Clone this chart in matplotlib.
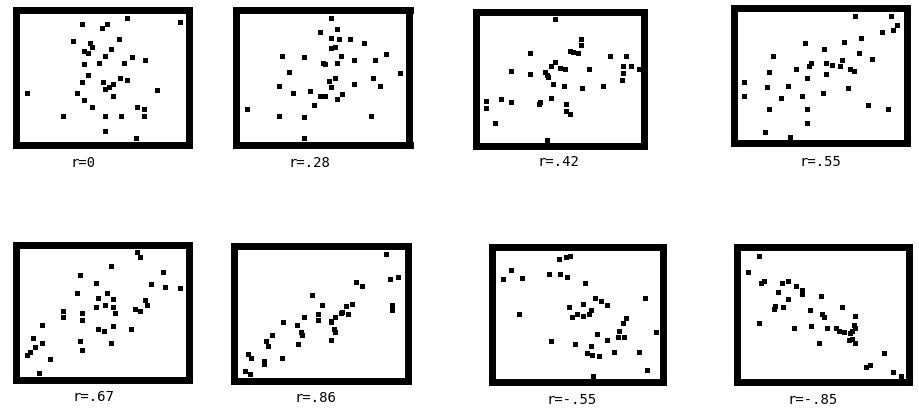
"""
Eight small scatter plots showing what different correlation
coefficients look like. Point values are read off the picture and
kept in each panel's own pixel-like units.
"""

import matplotlib
matplotlib.use("Agg")
import matplotlib.pyplot as plt

# Data (x, y) per panel, y grows downwards as read
# ----------------------------------------------------------------------
LABELS = ["r=0", "r=.28", "r=.42", "r=.55",
          "r=.67", "r=.86", "r=-.55", "r=-.85"]

x_r0 = [380, 540, 247, 322, 305, 218, 356, 270, 275, 252, 265, 334, 316, 397,
        436, 253, 298, 373, 265, 360, 380, 247, 310, 340, 328, 316, 82, 471,
        230, 340, 253, 276, 412, 432, 190, 316, 363, 431, 316, 408]
y_r0 = [53, 67, 72, 72, 85, 122, 117, 130, 140, 153, 158, 148, 167, 171,
        180, 193, 189, 189, 225, 234, 239, 247, 247, 252, 261, 267, 279, 270,
        279, 288, 301, 320, 320, 328, 347, 347, 347, 347, 392, 414]

x_r28 = [318, 336, 284, 318, 342, 376, 416, 330, 318, 170, 238, 348, 484, 388,
         450, 293, 300, 336, 192, 524, 330, 312, 444, 163, 318, 388, 466, 204,
         256, 284, 300, 352, 336, 266, 66, 163, 238, 438, 238]
y_r28 = [53, 86, 95, 113, 117, 117, 130, 140, 144, 167, 171, 167, 162, 180,
         180, 189, 193, 189, 216, 220, 234, 243, 234, 257, 261, 252, 257, 279,
         274, 288, 288, 283, 297, 316, 328, 347, 351, 347, 414]

x_r42 = [285, 364, 364, 210, 330, 340, 355, 450, 497, 285, 272, 300, 315, 153,
         210, 255, 260, 263, 388, 490, 514, 538, 490, 485, 280, 313, 365, 428,
         78, 124, 153, 78, 240, 236, 273, 318, 318, 330, 106, 262]
y_r42 = [58, 117, 135, 158, 153, 157, 158, 167, 167, 185, 198, 203, 208, 212,
         221, 216, 225, 232, 207, 198, 198, 207, 220, 239, 252, 257, 265, 257,
         302, 298, 306, 324, 306, 312, 293, 311, 333, 342, 369, 419]

x_r55 = [390, 498, 516, 470, 505, 408, 240, 356, 298, 402, 144, 442, 350, 258,
         253, 304, 322, 345, 212, 133, 304, 376, 386, 247, 58, 127, 189, 368,
         293, 58, 167, 230, 132, 247, 430, 488, 247, 121, 196]
y_r55 = [49, 49, 76, 95, 90, 113, 130, 126, 148, 158, 167, 176, 180, 189,
         198, 189, 194, 198, 207, 216, 221, 207, 212, 234, 247, 261, 257, 265,
         279, 288, 293, 288, 328, 328, 316, 328, 369, 396, 410]

x_r67 = [412, 420, 334, 488, 241, 288, 454, 494, 540, 230, 322, 293, 340, 436,
         442, 288, 316, 340, 406, 420, 190, 190, 247, 346, 247, 127, 340, 293,
         312, 392, 98, 127, 104, 241, 334, 247, 90, 82, 150, 116]
y_r67 = [52, 67, 93, 111, 120, 143, 147, 156, 160, 174, 174, 188, 192, 196,
         210, 215, 210, 215, 223, 228, 228, 246, 233, 233, 256, 269, 273, 282,
         288, 283, 310, 323, 337, 319, 323, 346, 350, 360, 373, 413]

x_r86 = [484, 496, 520, 392, 410, 262, 290, 380, 364, 502, 502, 352, 348, 370,
         238, 278, 278, 330, 318, 318, 175, 215, 228, 232, 326, 330, 140, 122,
         128, 220, 318, 70, 78, 116, 116, 170, 60, 76]
y_r86 = [57, 133, 125, 142, 152, 179, 210, 206, 212, 210, 225, 230, 235, 238,
         246, 238, 255, 246, 257, 262, 260, 269, 292, 301, 283, 290, 300, 319,
         332, 327, 314, 357, 370, 378, 388, 369, 408, 418]

x_rm55 = [236, 258, 270, 92, 70, 127, 207, 241, 260, 316, 346, 362, 380, 494,
          266, 310, 116, 276, 290, 310, 326, 334, 438, 430, 416, 352, 414, 432,
          528, 212, 284, 334, 380, 320, 336, 356, 402, 478, 500, 340]
y_rm55 = [71, 66, 62, 106, 133, 129, 116, 116, 125, 143, 188, 197, 211, 188,
          215, 206, 238, 247, 238, 243, 236, 225, 250, 265, 287, 297, 307, 305,
          292, 319, 328, 332, 315, 355, 360, 364, 351, 351, 405, 423]

x_rm85 = [103, 68, 108, 116, 172, 190, 213, 230, 230, 160, 190, 287, 150, 148,
          173, 254, 350, 290, 298, 390, 103, 207, 259, 305, 334, 343, 358, 386,
          390, 380, 376, 372, 382, 390, 282, 477, 422, 436, 505, 527]
y_rm85 = [62, 111, 143, 138, 143, 138, 152, 165, 178, 170, 193, 184, 212, 221,
          215, 225, 215, 238, 246, 243, 265, 278, 273, 278, 278, 287, 292, 270,
          278, 287, 294, 315, 312, 324, 323, 355, 396, 391, 410, 423]

XS = [x_r0, x_r28, x_r42, x_r55, x_r67, x_r86, x_rm55, x_rm85]
YS = [y_r0, y_r28, y_r42, y_r55, y_r67, y_r86, y_rm55, y_rm85]
# ----------------------------------------------------------------------

# Layout (pixels)
# ----------------------------------------------------------------------
W, H = 920, 415
# crop origin of each panel and its frame box (x0, x1, y0, y1) in 3x units
ORIGINS = [(0, 0), (225, 0), (460, 0), (725, 0),
           (0, 235), (225, 235), (480, 235), (725, 235)]
BOXES = [(49, 568, 31, 435), (33.5, 553.5, 31, 436), (47.5, 552, 36, 438.5),
         (26.5, 545, 25, 430), (49, 567, 31, 434), (27.5, 549, 32, 437.5),
         (36, 550, 37, 441), (36, 552.5, 37, 441)]
LABEL_POS = [(83, 163), (309, 163), (558, 162), (820, 162),
             (93, 397), (315, 398), (572, 400), (813, 400)]
FRAME_WIDTH = 5.0
MARKER_SIZE = 3.6
# ----------------------------------------------------------------------


def main():
    fig = plt.figure(figsize=(W / 100.0, H / 100.0), dpi=100)
    fig.patch.set_facecolor("white")
    for i in range(len(XS)):
        ox, oy = ORIGINS[i]
        x0, x1, y0, y1 = BOXES[i]
        left = (ox + x0 / 3.0) / W
        bottom = 1 - (oy + y1 / 3.0) / H
        width = (x1 - x0) / 3.0 / W
        height = (y1 - y0) / 3.0 / H
        ax = fig.add_axes([left, bottom, width, height])
        ax.plot(XS[i], YS[i], "s", color="black", markersize=MARKER_SIZE,
                markeredgewidth=0)
        ax.set_xlim(x0, x1)
        ax.set_ylim(y1, y0)
        ax.set_xticks([])
        ax.set_yticks([])
        for spine in ax.spines.values():
            spine.set_linewidth(FRAME_WIDTH)
            spine.set_color("black")
            spine.set_capstyle("projecting")
        lx, ly = LABEL_POS[i]
        fig.text(lx / W, 1 - ly / H, LABELS[i], ha="center", va="center",
                 fontsize=10, family="DejaVu Sans Mono", color="black")
    fig.savefig("out.png", dpi=100, facecolor="white")


if __name__ == "__main__":
    main()
